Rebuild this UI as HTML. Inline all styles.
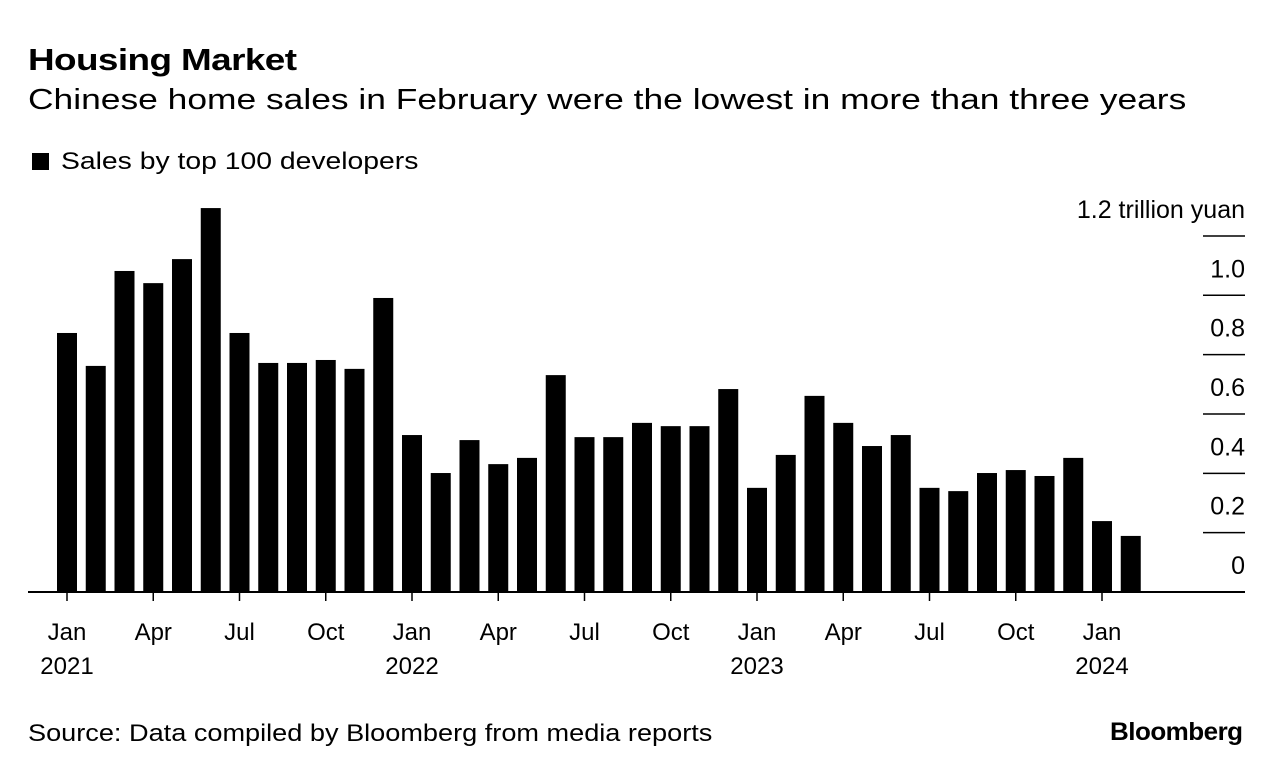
<!DOCTYPE html>
<html><head><meta charset="utf-8"><style>
body{margin:0;background:#fff;font-family:"Liberation Sans",sans-serif;color:#000}
#wrap{position:relative;width:1279px;height:776px;overflow:hidden}
.t{position:absolute;white-space:nowrap;transform-origin:0 0}
</style></head><body>
<div id="wrap">
<div class="t" style="left:28px;top:42px;font-size:31px;font-weight:bold;letter-spacing:-0.5px;transform:scaleX(1.19)">Housing Market</div>
<div class="t" style="left:28px;top:84px;font-size:29px;transform:scaleX(1.22)">Chinese home sales in February were the lowest in more than three years</div>
<div class="t" style="left:32px;top:148px;font-size:24px"><span style="display:inline-block;width:17px;height:17px;background:#000;margin-right:12px;vertical-align:-1px"></span><span style="display:inline-block;transform:scaleX(1.18);transform-origin:0 0">Sales by top 100 developers</span></div>
<svg id="chart" width="1279" height="776" style="position:absolute;left:0;top:0"></svg>
<div class="t" style="left:28px;top:720px;font-size:24px;transform:scaleX(1.13)">Source: Data compiled by Bloomberg from media reports</div>
<div class="t" style="left:1110px;top:718px;font-size:25px;font-weight:bold;letter-spacing:-0.5px;transform:scaleX(1.04)">Bloomberg</div>
</div>
<script>
const values=[0.873,0.762,1.082,1.041,1.122,1.294,0.873,0.772,0.772,0.782,0.752,0.991,
0.529,0.401,0.512,0.431,0.452,0.731,0.522,0.522,0.570,0.559,0.559,0.684,
0.351,0.462,0.661,0.570,0.492,0.529,0.351,0.340,0.401,0.411,0.391,0.452,
0.239,0.189];
const yTicks=[0,0.2,0.4,0.6,0.8,1.0,1.2];
const yTickLabels=["0","0.2","0.4","0.6","0.8","1.0","1.2 trillion yuan"];
const xTickIdx=[0,3,6,9,12,15,18,21,24,27,30,33,36];
const xTickLabels=["Jan","Apr","Jul","Oct","Jan","Apr","Jul","Oct","Jan","Apr","Jul","Oct","Jan"];
const yearIdx=[0,12,24,36];
const yearLabels=["2021","2022","2023","2024"];
const NS="http://www.w3.org/2000/svg";
const svg=document.getElementById('chart');
const y=v=>592-v*296.7;
const x=i=>67+i*28.75;
function mk(tag,attrs){const e=document.createElementNS(NS,tag);for(const k in attrs)e.setAttribute(k,attrs[k]);svg.appendChild(e);return e;}
yTicks.forEach((v,i)=>{
  if(v>0){const l=mk('line',{x1:1203,x2:1245,y1:y(v),y2:y(v),stroke:'#000','stroke-width':1.5});
  
  }
  const t=mk('text',{x:1245,y:y(v)-18,'text-anchor':'end','font-size':25,'font-family':'Liberation Sans, sans-serif'});
  t.textContent=yTickLabels[i];
  
  
});
values.forEach((v,i)=>{
  const r=mk('rect',{x:x(i)-10,y:y(v),width:20,height:592-y(v),fill:'#000'});
  
  
});
const base=mk('line',{x1:28,x2:1245,y1:592,y2:592,stroke:'#000','stroke-width':2});


xTickIdx.forEach((idx,i)=>{
  const l=mk('line',{x1:x(idx),x2:x(idx),y1:592,y2:601,stroke:'#000','stroke-width':1.5});
  
  
  const t=mk('text',{x:x(idx),y:640,'text-anchor':'middle','font-size':24,'font-family':'Liberation Sans, sans-serif'});
  t.textContent=xTickLabels[i];
  
  
});
yearIdx.forEach((idx,i)=>{
  const t=mk('text',{x:x(idx),y:674,'text-anchor':'middle','font-size':24,'font-family':'Liberation Sans, sans-serif'});
  t.textContent=yearLabels[i];
  
  
});
</script>
</body></html>
